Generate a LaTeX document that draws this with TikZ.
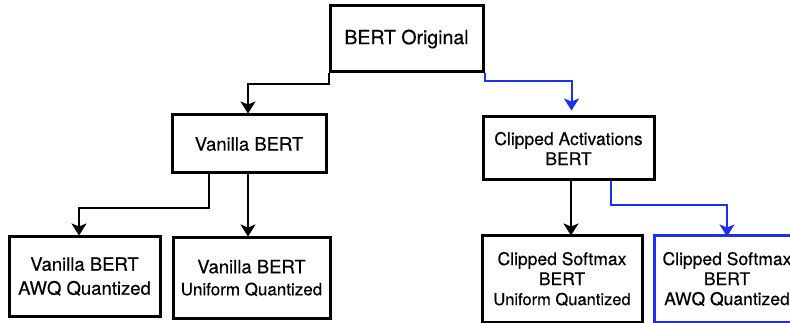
\documentclass[tikz,border=0pt]{standalone}
\usepackage{fontspec}
\setmainfont{TeX Gyre Heros}[FakeBold=0.35]
\usetikzlibrary{arrows.meta}
\definecolor{pathblue}{RGB}{28,48,238}
\newcommand{\fsz}[1]{\fontsize{#1}{20}\selectfont}
\tikzset{
    box/.style ={
        shape=rectangle,
        draw=black,
        line width=3pt,
        align=center,
        inner sep=0pt,
        font=\fsz{18.5}
    },
    pickbox/.style ={
        box,
        draw=pathblue
    },
    edge/.style ={
        draw=black,
        line width=2pt,
        -{Stealth[length=12pt,width=15pt,inset=3pt]}
    },
    pickedge/.style ={
        edge,
        draw=pathblue
    }
}

\begin{document}
\begin{tikzpicture}[x=1pt,y=-1pt]
    \fill[white] (0,0) rectangle (790,323);
    \clip (0,0) rectangle (790,323);
    % top row
    \node[box, font=\fsz{19.5}, minimum width=153pt, minimum height=66pt] (orig) at(406.5,39) {BERT Original};
    % second row
    \node[box, minimum width=154pt, minimum height=58pt] (vanilla) at(249,144) {Vanilla BERT};
    \node[box, font=\fsz{17.5}, minimum width=171pt, minimum height=63pt] (clipact) at(568.5,148.5) {Clipped Activations\\BERT};
    % leaves
    \node[box, minimum width=151pt, minimum height=79pt] (vawq) at(84.5,276.5) {Vanilla BERT\\[4pt]AWQ Quantized};
    \node[box, minimum width=157pt, minimum height=80pt] (vuni) at(251.5,278) {Vanilla BERT\\[2pt]{\fsz{17}Uniform Quantized}};
    \node[box, font=\fsz{17.5}, minimum width=160pt, minimum height=86pt] (csuni) at(562,279) {Clipped Softmax\\BERT\\{\fsz{16.5}Uniform Quantized}};
    \node[pickbox, font=\fsz{17.5}, minimum width=146pt, minimum height=86pt] (csawq) at(727,279) {Clipped Softmax\\BERT\\AWQ Quantized};

    \draw[edge] (orig.south west) -- ++(0,11) -| ([xshift=-1pt]vanilla.north);
    \draw[pickedge] (orig.south east) -- ++(0,8) -| ([xshift=3pt,yshift=5pt]clipact.north);
    \draw[edge] ([xshift=-40pt]vanilla.south) -- ++(0,34) -| ([xshift=-5.5pt]vawq.north);
    \draw[edge] ([xshift=-1pt]vanilla.south) -- ([xshift=-1pt]vanilla.south |- vuni.north);
    \draw[edge] ([xshift=2.5pt]clipact.south) -- ([xshift=2.5pt,yshift=-1pt]clipact.south |- csuni.north);
    \draw[pickedge] ([xshift=42.5pt]clipact.south) -- ++(0,24) -| ([yshift=-2pt]csawq.north);
\end{tikzpicture}
\end{document}
